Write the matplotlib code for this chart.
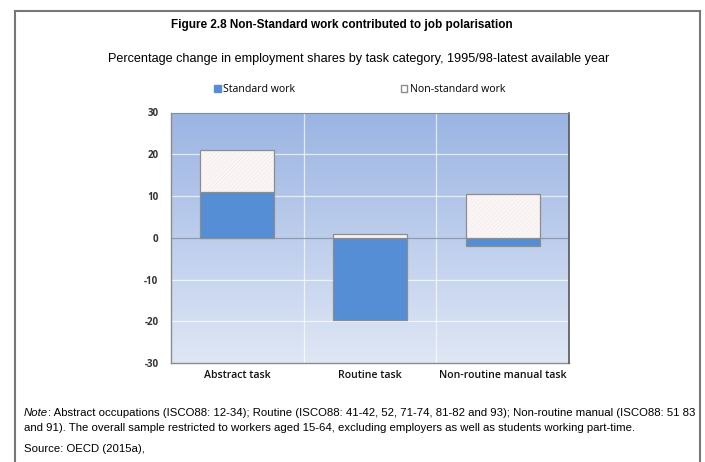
" Figure 2.8: standard vs non-standard work contribution to job polarisation "

import numpy as np
import matplotlib.pyplot as plt
from matplotlib.lines import Line2D
from matplotlib.patches import Patch

# data
categories = ["Abstract task", "Routine task", "Non-routine manual task"]
standard_work = [11.0, -19.8, -1.9]
non_standard_work = [10.0, 0.9, 10.4]
y_ticks = [-30, -20, -10, 0, 10, 20, 30]

W, H = 705, 462
fig = plt.figure(figsize=(W / 100, H / 100), dpi=100)
fig.patch.set_facecolor("white")

# axes placed in pixel coordinates
left, right, top, bottom = 171, 569, 112.5, 363
ax = fig.add_axes([left / W, 1 - bottom / H, (right - left) / W, (bottom - top) / H])

x = np.arange(len(categories))
ax.set_xlim(-0.5, len(categories) - 0.5)
ax.set_ylim(-30, 30)

# gradient background
grad = np.linspace(0, 1, 256).reshape(-1, 1)
top_col = np.array([0x9b, 0xb4, 0xe3]) / 255
bot_col = np.array([0xdf, 0xe7, 0xf5]) / 255
img = top_col[None, None, :] * (1 - grad[:, :, None]) + bot_col[None, None, :] * grad[:, :, None]
ax.imshow(img, extent=[-0.5, len(categories) - 0.5, -30, 30], aspect="auto",
          zorder=0, origin="upper")

# grid
for yv in y_ticks[1:-1]:
    if yv != 0:
        ax.axhline(yv, color="white", linewidth=0.9, alpha=0.7, zorder=1)
for xv in [0.5, 1.5]:
    ax.axvline(xv, color="white", linewidth=0.9, alpha=0.7, zorder=1)
ax.axhline(0, color="#8c9bb0", linewidth=0.9, zorder=1)

# bars: standard work from zero, non-standard stacked on the positive side
bar_w = 0.56
ns_bottom = [max(s, 0) for s in standard_work]
plt.rcParams["hatch.linewidth"] = 0.3
ax.bar(x, standard_work, width=bar_w, color="#558ed5", edgecolor="#8d8d8d",
       linewidth=0.9, zorder=3)
# faint hatched fill, then the grey outline on top
ax.bar(x, non_standard_work, bottom=ns_bottom, width=bar_w, color="#faf6f5",
       edgecolor="#efe6e6", linewidth=0, hatch="////////", zorder=3)
ax.bar(x, non_standard_work, bottom=ns_bottom, width=bar_w, fill=False,
       edgecolor="#8d8d8d", linewidth=0.9, zorder=4)

# spines and ticks
for side in ["top", "right"]:
    ax.spines[side].set_visible(False)
ax.spines["left"].set_color("#8c8c8c")
ax.spines["bottom"].set_color("#8c8c8c")
ax.spines["left"].set_linewidth(1.0)
ax.spines["bottom"].set_linewidth(1.0)
ax.plot([1, 1], [0, 1], transform=ax.transAxes, color="#555555", linewidth=1.2,
        clip_on=False, zorder=5)
ax.plot([0, 1], [1, 1], transform=ax.transAxes, color="#7f8ea8", linewidth=0.8,
        clip_on=False, zorder=5)

ax.set_yticks(y_ticks)
ax.set_yticklabels([str(v) for v in y_ticks], fontsize=7, fontweight="bold",
                   color="#333333", family="Open Sans")
ax.set_xticks(x)
ax.set_xticklabels(categories, fontsize=7.6, color="#111111", family="Open Sans",
                   fontweight="semibold")
ax.tick_params(axis="both", length=0)
ax.tick_params(axis="y", pad=9)
ax.tick_params(axis="x", pad=5)

# legend
handles = [
    Patch(facecolor="#558ed5", edgecolor="#558ed5", label="Standard work"),
    Patch(facecolor="white", edgecolor="#8d8d8d", label="Non-standard work"),
]
fig.legend(handles=handles, loc="center", bbox_to_anchor=(359.5 / W, 1 - 90 / H),
           ncol=2, frameon=False, columnspacing=10, handlelength=0.65,
           handleheight=0.65, handletextpad=0.2,
           prop={"family": "Open Sans", "size": 7.6})

# titles
fig.text(341.5 / W, 1 - 25 / H, "Figure 2.8 Non-Standard work contributed to job polarisation",
         ha="center", va="center", fontsize=8.5, fontweight="bold",
         family="Liberation Sans")
fig.text(359 / W, 1 - 59 / H,
         "Percentage change in employment shares by task category, 1995/98-latest available year",
         ha="center", va="center", fontsize=9.1, family="Liberation Sans")

# notes
note_size = 8.2
t_note = fig.text(24 / W, 1 - 413 / H, "Note", ha="left", va="center",
                  fontsize=note_size, style="italic", family="Liberation Sans")
renderer = fig.canvas.get_renderer()
note_w = t_note.get_window_extent(renderer).width
fig.text((24 + note_w) / W, 1 - 413 / H,
         ": Abstract occupations (ISCO88: 12-34); Routine (ISCO88: 41-42, 52, 71-74, 81-82 and 93); Non-routine manual (ISCO88: 51 83",
         ha="left", va="center", fontsize=note_size, family="Liberation Sans")
fig.text(24 / W, 1 - 428 / H,
         "and 91). The overall sample restricted to workers aged 15-64, excluding employers as well as students working part-time.",
         ha="left", va="center", fontsize=note_size, family="Liberation Sans")
fig.text(24 / W, 1 - 449 / H, "Source: OECD (2015a),",
         ha="left", va="center", fontsize=note_size, family="Liberation Sans")

# frame around the figure box
fig.add_artist(Line2D([15 / W, 15 / W], [0, 1 - 11 / H], color="#777777", linewidth=1.5))
fig.add_artist(Line2D([15 / W, 700 / W], [1 - 11 / H, 1 - 11 / H], color="#777777", linewidth=1.5))
fig.add_artist(Line2D([700 / W, 700 / W], [0, 1 - 11 / H], color="#777777", linewidth=1.5))

fig.savefig("out.png", dpi=100)
